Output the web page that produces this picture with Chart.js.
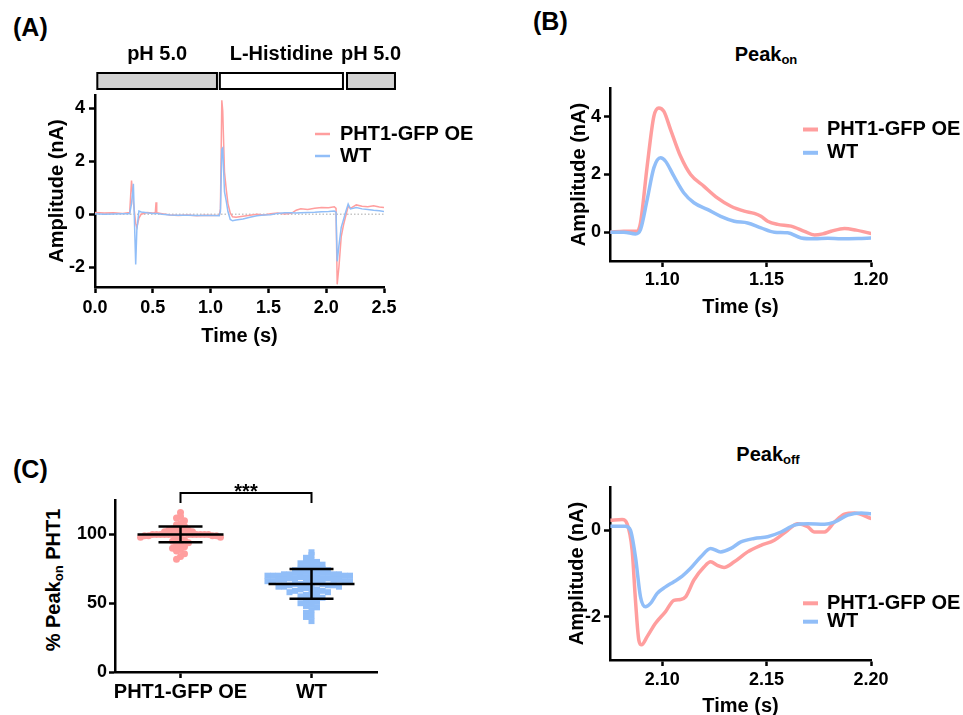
<!DOCTYPE html>
<html>
<head>
<meta charset="utf-8">
<script src="https://cdn.jsdelivr.net/npm/chart.js@4/dist/chart.umd.min.js"></script>
<style>
  body { margin: 0; background: #fff; width: 963px; height: 715px; overflow: hidden; position: relative;
         font-family: "Liberation Sans", Arial, sans-serif; font-weight: bold; color: #000; }
  canvas { position: absolute; }
  .lbl { position: absolute; font-size: 25px; line-height: 25px; white-space: nowrap; }
  .ttl { position: absolute; font-size: 20px; line-height: 20px; white-space: nowrap; transform: translateX(-50%); }
  .ttl span, #cTitle span { font-size: 13px; position: relative; top: 3px; }
  #cTitle { position: absolute; left: 54px; top: 580px; font-size: 20px; line-height: 24px; white-space: nowrap;
            transform: translate(-50%, -50%) rotate(-90deg); }
</style>
</head>
<body>
<div class="lbl" style="left:13px;top:15px">(A)</div>
<div class="lbl" style="left:533px;top:9px">(B)</div>
<div class="lbl" style="left:13px;top:457px">(C)</div>
<div class="ttl" style="left:766px;top:44px">Peak<span>on</span></div>
<div class="ttl" style="left:768px;top:444px">Peak<span>off</span></div>
<div id="cTitle">% Peak<span>on</span> PHT1</div>

<canvas id="chartA" width="480" height="360" style="left:0;top:0"></canvas>
<canvas id="chartOn" width="423" height="340" style="left:540px;top:0"></canvas>
<canvas id="chartC" width="420" height="275" style="left:0;top:440px"></canvas>
<canvas id="chartOff" width="423" height="290" style="left:540px;top:440px"></canvas>

<script>
// ---- data ----
const seriesNames = ['PHT1-GFP OE', 'WT']

// (A) full recording
const tA = [0.00, 0.08, 0.16, 0.24, 0.30, 0.316, 0.332, 0.352, 0.362, 0.38, 0.40, 0.45, 0.50, 0.522, 0.528,
  0.534, 0.58, 0.65, 0.72, 0.80, 0.88, 0.95, 1.02, 1.075, 1.085, 1.097, 1.105, 1.12, 1.135, 1.15, 1.17, 1.19,
  1.22, 1.28, 1.34, 1.40, 1.46, 1.52, 1.58, 1.64, 1.70, 1.74, 1.78, 1.84, 1.90, 1.96, 2.02, 2.07, 2.085, 2.095,
  2.11, 2.13, 2.15, 2.17, 2.19, 2.21, 2.26, 2.31, 2.36, 2.41, 2.46, 2.50]
const pinkA = [0.06, 0.04, 0.05, 0.03, 0.06, 1.27, 0.45, -0.35, -0.5, -0.15, 0.0, 0.06, 0.04, 0.06, 0.45,
  0.05, 0.02, -0.03, -0.05, -0.03, -0.06, -0.04, -0.05, -0.04, 0.2, 4.3, 3.9, 1.6, 0.95, 0.4, 0.05, -0.1,
  -0.12, -0.08, -0.04, 0.0, -0.03, 0.02, 0.04, 0.01, 0.03, 0.15, 0.2, 0.18, 0.22, 0.25, 0.24, 0.28, 0.22, -2.65,
  -2.0, -0.85, -0.4, -0.05, 0.3, 0.22, 0.35, 0.3, 0.28, 0.32, 0.27, 0.25]
const blueA = [0.02, 0.0, 0.01, 0.02, 0.02, 0.4, 1.15, -1.9, -0.6, 0.12, 0.08, 0.05, 0.03, 0.03, 0.03,
  0.03, 0.0, -0.03, -0.04, -0.04, -0.05, -0.05, -0.05, -0.06, 0.1, 2.45, 2.5, 0.85, 0.5, 0.1, -0.2, -0.25,
  -0.22, -0.18, -0.12, -0.06, -0.03, -0.02, 0.03, 0.05, 0.05, 0.04, 0.05, 0.06, 0.07, 0.09, 0.1, 0.12, 0.08, -1.78,
  -1.2, -0.5, -0.2, 0.1, 0.38, 0.2, 0.25, 0.2, 0.18, 0.15, 0.13, 0.1]
const xTicksA = [0, 0.5, 1, 1.5, 2, 2.5]
const yTicksA = [-2, 0, 2, 4]

// solution bars above (A)
const phaseLabels = ['pH 5.0', 'L-Histidine', 'pH 5.0']
const phaseStart = [0.02, 1.08, 2.18]
const phaseEnd = [1.055, 2.145, 2.595]

// (B) Peak on
const tOnPink = [1.0752, 1.0816, 1.088, 1.0896, 1.0928, 1.096, 1.0984, 1.1008, 1.104, 1.1088, 1.1136, 1.12,
  1.1264, 1.1329, 1.1393, 1.1441, 1.1473, 1.1505, 1.1553, 1.1617, 1.1681, 1.1729, 1.1769, 1.1809, 1.1873, 1.1929, 1.2002]
const pinkOn = [0, 0.03, 0.03, 0.32, 2.29, 4.02, 4.31, 4.19, 3.56, 2.63, 2.0, 1.59,
  1.19, 0.9, 0.73, 0.65, 0.55, 0.38, 0.27, 0.21, 0.03, -0.1, -0.06, 0.03, 0.13, 0.07, -0.05]
const tOnBlue = [1.0752, 1.0816, 1.0872, 1.0896, 1.0928, 1.096, 1.0992, 1.1016, 1.1056, 1.1104, 1.1152, 1.1216,
  1.128, 1.1345, 1.1409, 1.1473, 1.1537, 1.1601, 1.1665, 1.1729, 1.1793, 1.1857, 1.1938, 1.2002]
const blueOn = [0, 0, -0.06, 0.09, 1.13, 2.23, 2.58, 2.46, 1.94, 1.36, 1.02, 0.79,
  0.55, 0.38, 0.32, 0.15, 0, -0.02, -0.2, -0.23, -0.21, -0.23, -0.22, -0.2]
const xTicksOn = [1.10, 1.15, 1.20]
const yTicksOn = [0, 2, 4]

// (B) Peak off
const tOffPink = [2.0752, 2.0808, 2.0832, 2.0856, 2.0872, 2.0888, 2.0901, 2.0928, 2.0968, 2.1016, 2.1056, 2.1088,
  2.1112, 2.1152, 2.12, 2.1232, 2.1264, 2.1296, 2.1345, 2.1409, 2.1473, 2.1537, 2.1601, 2.1649, 2.1697, 2.1729,
  2.1777, 2.1825, 2.1873, 2.1921, 2.2002]
const pinkOff = [0.23, 0.25, 0.15, -0.46, -1.62, -2.54, -2.65, -2.46, -2.15, -1.88, -1.62, -1.6,
  -1.54, -1.15, -0.85, -0.73, -0.81, -0.86, -0.73, -0.5, -0.35, -0.23, 0, 0.15, 0.08, -0.04,
  -0.04, 0.19, 0.37, 0.4, 0.27]
const tOffBlue = [2.0752, 2.0824, 2.0848, 2.0872, 2.0896, 2.092, 2.0944, 2.0976, 2.1016, 2.1056, 2.1096, 2.1136,
  2.1184, 2.1232, 2.128, 2.1329, 2.1377, 2.1441, 2.1505, 2.1569, 2.1633, 2.1697, 2.1777, 2.1825, 2.1889, 2.1953, 2.2002]
const blueOff = [0.09, 0.09, 0, -0.62, -1.54, -1.77, -1.69, -1.46, -1.31, -1.19, -1.06, -0.88,
  -0.62, -0.42, -0.5, -0.42, -0.27, -0.19, -0.15, -0.04, 0.12, 0.15, 0.14, 0.19, 0.35, 0.4, 0.38]
const xTicksOff = [2.10, 2.15, 2.20]
const yTicksOff = [-2, 0]

// (C) % Peak on, per cell
const groupLabels = ['PHT1-GFP OE', 'WT']
const pinkC = [116, 113, 112, 110, 108, 107, 106, 105, 105, 104, 104, 103, 103, 102, 102, 101, 101, 101,
  100, 100, 100, 100, 100, 100, 100, 100, 100, 100, 100, 100, 99, 99, 99, 99, 98, 98,
  97, 97, 96, 95, 94, 93, 92, 91, 90, 89, 88, 86, 84, 82]
const blueC = [87, 85, 83, 81, 80, 80, 79, 78, 77, 76, 76, 75, 75, 74, 74,
  73, 73, 73, 72, 72, 72, 72, 71, 71, 71, 71, 70, 70, 70, 70, 70,
  69, 69, 69, 69, 68, 68, 68, 68, 67, 67, 67, 67, 66, 66, 66, 66,
  65, 65, 65, 64, 64, 64, 63, 63, 63, 62, 62, 62,
  61, 61, 60, 60, 59, 59, 58, 58, 57, 56, 56, 55, 54, 53, 52, 51, 50, 49, 48, 47, 45, 43, 41, 40, 37]
const meanC = [100, 64]
const sdC = [5.7, 10.8]
const yTicksC = [0, 50, 100]
const sigLabel = '***'

// ---- styling ----
const PINK = 'rgb(255,158,158)'
const BLUE = 'rgb(145,190,248)'
const FONT = '"Liberation Sans", Arial, sans-serif'

Chart.defaults.font.family = FONT
Chart.defaults.font.weight = 'bold'
Chart.defaults.color = '#000'
Chart.defaults.animation = false

const pts = (xs, ys) => xs.map((x, i) => ({ x, y: ys[i] }))

function axis(o) {
  return {
    type: 'linear',
    min: o.min,
    max: o.max,
    border: { display: true, color: '#000', width: 2.5 },
    grid: { display: true, drawOnChartArea: false, drawTicks: true, tickLength: 6, tickWidth: 2.5, tickColor: '#000' },
    ticks: { color: '#000', font: { size: o.size || 18, weight: 'bold' }, padding: o.pad, autoSkip: false, maxRotation: 0, callback: o.fmt },
    title: o.title
      ? { display: true, text: o.title, color: '#000', font: { size: 20, weight: 'bold' }, padding: { top: 4, bottom: 4 } }
      : { display: false },
    afterBuildTicks: s => { s.ticks = o.ticks.map(v => ({ value: v })) },
    afterFit: s => {
      if (o.width) s.width = o.width
      if (o.height) s.height = o.height
    }
  }
}

// legend drawn next to the traces, as in the figure
const sideLegend = {
  id: 'sideLegend',
  afterDraw(chart, args, o) {
    const ctx = chart.ctx
    ctx.save()
    ctx.font = 'bold 20px ' + FONT
    ctx.textBaseline = 'middle'
    chart.data.datasets.forEach((ds, i) => {
      const y = o.y + i * o.dy
      ctx.strokeStyle = ds.borderColor
      ctx.lineWidth = o.lw
      ctx.beginPath()
      ctx.moveTo(o.x, y)
      ctx.lineTo(o.x + o.len, y)
      ctx.stroke()
      ctx.fillStyle = '#000'
      ctx.fillText(ds.label, o.x + o.len + o.gap, y)
    })
    ctx.restore()
  }
}

const phaseBars = {
  id: 'phaseBars',
  beforeDatasetsDraw(chart) {
    const { ctx, chartArea, scales: { y } } = chart
    const y0 = y.getPixelForValue(0)
    ctx.save()
    ctx.strokeStyle = '#aaa'
    ctx.lineWidth = 1
    ctx.setLineDash([1.5, 2])
    ctx.beginPath()
    ctx.moveTo(chartArea.left, y0)
    ctx.lineTo(chartArea.right, y0)
    ctx.stroke()
    ctx.restore()
  },
  afterDraw(chart) {
    const { ctx, scales: { x } } = chart
    const fills = ['#d3d3d3', '#fff', '#d3d3d3']
    ctx.save()
    ctx.font = 'bold 20px ' + FONT
    ctx.textAlign = 'center'
    ctx.textBaseline = 'alphabetic'
    phaseLabels.forEach((lab, i) => {
      const x1 = x.getPixelForValue(phaseStart[i])
      const x2 = x.getPixelForValue(phaseEnd[i])
      ctx.fillStyle = fills[i]
      ctx.fillRect(x1, 73, x2 - x1, 16)
      ctx.strokeStyle = '#000'
      ctx.lineWidth = 2
      ctx.strokeRect(x1, 73, x2 - x1, 16)
      ctx.fillStyle = '#000'
      ctx.fillText(lab, (x1 + x2) / 2, 60)
    })
    ctx.restore()
  }
}

const summaryBars = {
  id: 'summaryBars',
  afterDatasetsDraw(chart) {
    const { ctx, scales: { x, y } } = chart
    ctx.save()
    ctx.strokeStyle = '#000'
    ctx.lineWidth = 2.5
    meanC.forEach((m, i) => {
      const cx = x.getPixelForValue(i)
      const ym = y.getPixelForValue(m)
      const yh = y.getPixelForValue(m + sdC[i])
      const yl = y.getPixelForValue(m - sdC[i])
      ctx.beginPath()
      ctx.moveTo(cx - 43, ym); ctx.lineTo(cx + 43, ym)
      ctx.moveTo(cx, yh); ctx.lineTo(cx, yl)
      ctx.moveTo(cx - 22, yh); ctx.lineTo(cx + 22, yh)
      ctx.moveTo(cx - 22, yl); ctx.lineTo(cx + 22, yl)
      ctx.stroke()
    })
    // significance bracket
    const x0 = x.getPixelForValue(0)
    const x1 = x.getPixelForValue(1)
    ctx.lineWidth = 2
    ctx.beginPath()
    ctx.moveTo(x0, 63); ctx.lineTo(x0, 53); ctx.lineTo(x1, 53); ctx.lineTo(x1, 63)
    ctx.stroke()
    ctx.fillStyle = '#000'
    ctx.font = 'bold 20px ' + FONT
    ctx.textAlign = 'center'
    ctx.fillText(sigLabel, (x0 + x1) / 2, 58)
    ctx.restore()
  }
}

// simple beeswarm: values in the same bin are spread left/right of the group centre
function swarm(values, center, binSize, step) {
  const bins = {}
  return values.map(v => {
    const k = Math.round(v / binSize)
    const i = bins[k] = (bins[k] === undefined ? -1 : bins[k]) + 1
    const side = i % 2 === 0 ? 1 : -1
    return { x: center + side * Math.ceil(i / 2) * step, y: v }
  })
}

function traceSet(label, data, color, width, smooth, order) {
  return {
    label,
    data,
    showLine: true,
    borderColor: color,
    backgroundColor: color,
    borderWidth: width,
    pointRadius: 0,
    cubicInterpolationMode: smooth ? 'monotone' : 'default',
    tension: 0,
    order
  }
}

// ---- (A) ----
new Chart(document.getElementById('chartA'), {
  type: 'scatter',
  data: {
    datasets: [
      traceSet(seriesNames[0], pts(tA, pinkA), PINK, 1.5, false, 1),
      traceSet(seriesNames[1], pts(tA, blueA), BLUE, 1.5, false, 0)
    ]
  },
  options: {
    responsive: false,
    events: [],
    layout: { padding: { left: 41, right: 96, top: 95, bottom: 8 } },
    plugins: {
      legend: { display: false },
      tooltip: { enabled: false },
      sideLegend: { x: 315, y: 134, dy: 22, len: 15, gap: 10, lw: 2.5 }
    },
    scales: {
      x: axis({ min: 0, max: 2.5, ticks: xTicksA, fmt: v => v.toFixed(1), pad: 4.5, title: 'Time (s)', height: 65 }),
      y: axis({ min: -2.75, max: 4.5, ticks: yTicksA, fmt: v => String(v), pad: 4, title: 'Amplitude (nA)', width: 54 })
    }
  },
  plugins: [sideLegend, phaseBars]
})

// ---- (B) Peak on ----
new Chart(document.getElementById('chartOn'), {
  type: 'scatter',
  data: {
    datasets: [
      traceSet(seriesNames[0], pts(tOnPink, pinkOn), PINK, 3.5, true, 1),
      traceSet(seriesNames[1], pts(tOnBlue, blueOn), BLUE, 3.5, true, 0)
    ]
  },
  options: {
    responsive: false,
    events: [],
    layout: { padding: { left: 23, right: 92, top: 88, bottom: 17 } },
    plugins: {
      legend: { display: false },
      tooltip: { enabled: false },
      sideLegend: { x: 263, y: 129.5, dy: 23.3, len: 15, gap: 9, lw: 4 }
    },
    scales: {
      x: axis({ min: 1.075, max: 1.2, ticks: xTicksOn, fmt: v => v.toFixed(2), pad: 2.5, title: 'Time (s)', height: 62 }),
      y: axis({ min: -1, max: 5, ticks: yTicksOn, fmt: v => String(v), pad: 3, title: 'Amplitude (nA)', width: 47 })
    }
  },
  plugins: [sideLegend]
})

// ---- (B) Peak off ----
new Chart(document.getElementById('chartOff'), {
  type: 'scatter',
  data: {
    datasets: [
      traceSet(seriesNames[0], pts(tOffPink, pinkOff), PINK, 3.5, true, 1),
      traceSet(seriesNames[1], pts(tOffBlue, blueOff), BLUE, 3.5, true, 0)
    ]
  },
  options: {
    responsive: false,
    events: [],
    layout: { padding: { left: 21, right: 92, top: 47, bottom: 8 } },
    plugins: {
      legend: { display: false },
      tooltip: { enabled: false },
      sideLegend: { x: 263, y: 163.3, dy: 18.4, len: 15, gap: 9, lw: 4 }
    },
    scales: {
      x: axis({ min: 2.075, max: 2.2, ticks: xTicksOff, fmt: v => v.toFixed(2), pad: 3, title: 'Time (s)', height: 62 }),
      y: axis({ min: -3, max: 1, ticks: yTicksOff, fmt: v => String(v), pad: 3, title: 'Amplitude (nA)', width: 49 })
    }
  },
  plugins: [sideLegend]
})

// ---- (C) ----
new Chart(document.getElementById('chartC'), {
  type: 'scatter',
  data: {
    datasets: [
      { label: groupLabels[0], data: swarm(pinkC, 0, 4, 0.0305), pointStyle: 'circle', pointRadius: 3.5,
        backgroundColor: PINK, borderWidth: 0 },
      { label: groupLabels[1], data: swarm(blueC, 1, 4, 0.042), pointStyle: 'rect', pointRadius: 4.25,
        backgroundColor: BLUE, borderWidth: 0 }
    ]
  },
  options: {
    responsive: false,
    events: [],
    layout: { padding: { left: 70, right: 43, top: 60, bottom: 8 } },
    plugins: { legend: { display: false }, tooltip: { enabled: false } },
    scales: {
      x: axis({ min: -0.5, max: 1.5, ticks: [0, 1], fmt: v => groupLabels[v], size: 20, pad: 2, height: 35 }),
      y: axis({ min: 0, max: 125, ticks: yTicksC, fmt: v => String(v), pad: 2, width: 45 })
    }
  },
  plugins: [summaryBars]
})
</script>
</body>
</html>
